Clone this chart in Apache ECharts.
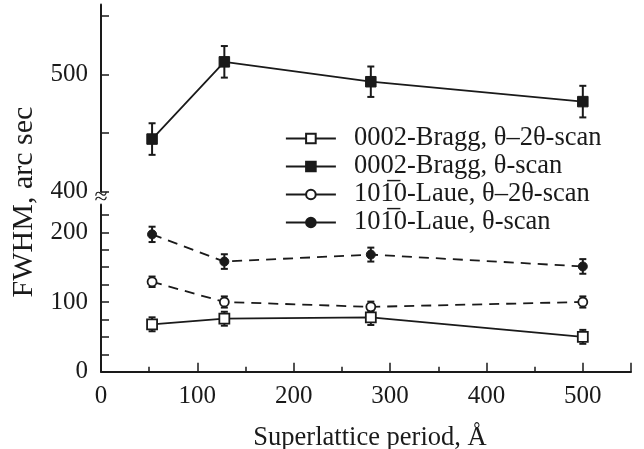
<!DOCTYPE html>
<html>
<head>
<meta charset="utf-8">
<script src="https://cdn.jsdelivr.net/npm/echarts@6/dist/echarts.min.js"></script>
<style>
  html, body { margin: 0; padding: 0; background: #fff; }
  #chart { width: 644px; height: 449px; }
</style>
</head>
<body>
<div id="chart"></div>
<script>
  // superlattice periods, angstrom
  const periods = [53, 128, 280, 500];

  // FWHM values (arc sec) and error half-widths
  const braggT2T = [68, 76, 78, 50];
  const braggT2TErr = [10, 10, 11, 10];
  const braggT = [445, 511, 494, 477];
  const braggTErr = [13.5, 13.5, 13, 13.5];
  const laueT2T = [129, 100, 93, 100];
  const laueT2TErr = [7.5, 8, 7.5, 8];
  const laueT = [197, 158, 168, 151];
  const laueTErr = [11, 10.5, 10, 10.5];

  const names = [
    '0002-Bragg, θ–2θ-scan',
    '0002-Bragg, θ-scan',
    '101\u03050-Laue, θ–2θ-scan',
    '101\u03050-Laue, θ-scan'
  ];

  const font = "'Liberation Serif', 'DejaVu Serif', serif";
  const ink = '#1a1a1a';

  function pts(ys) {
    return periods.map(function (x, i) { return [x, ys[i]]; });
  }
  function errPts(ys, es) {
    return periods.map(function (x, i) { return [x, ys[i], es[i]]; });
  }

  function renderErr(params, api) {
    const x = api.value(0), y = api.value(1), e = api.value(2);
    const top = api.coord([x, y + e]);
    const bot = api.coord([x, y - e]);
    const w = 3.5;
    const st = { stroke: ink, lineWidth: 2 };
    return {
      type: 'group',
      children: [
        { type: 'line', shape: { x1: top[0], y1: top[1], x2: bot[0], y2: bot[1] }, style: st },
        { type: 'line', shape: { x1: top[0] - w, y1: top[1], x2: top[0] + w, y2: top[1] }, style: st },
        { type: 'line', shape: { x1: bot[0] - w, y1: bot[1], x2: bot[0] + w, y2: bot[1] }, style: st }
      ]
    };
  }

  function errSeries(ys, es, idx) {
    return {
      type: 'custom',
      xAxisIndex: idx,
      yAxisIndex: idx,
      renderItem: renderErr,
      data: errPts(ys, es),
      encode: { x: 0, y: 1 },
      z: 1,
      silent: true
    };
  }

  const labelHundreds = function (v) { return v % 100 === 0 ? String(v) : ''; };

  const chart = echarts.init(document.getElementById('chart'));

  chart.setOption({
    backgroundColor: '#fff',
    animation: false,
    grid: [
      { left: 101, right: 13, top: 4.5, bottom: 257.3, outerBoundsMode: 'none' },
      { left: 101, right: 13, top: 204.4, bottom: 77.3, outerBoundsMode: 'none' }
    ],
    xAxis: [{
      gridIndex: 0,
      type: 'value',
      min: 0,
      max: 550,
      interval: 100,
      show: false
    }, {
      gridIndex: 1,
      type: 'value',
      min: 0,
      max: 550,
      interval: 100,
      name: 'Superlattice period, Å',
      nameLocation: 'middle',
      nameGap: 53,
      nameTextStyle: { fontFamily: font, fontSize: 26.5, color: ink, padding: [0, 0, 0, 8] },
      axisLine: { onZero: false, lineStyle: { color: ink, width: 2 } },
      axisTick: { inside: true, length: 9, lineStyle: { color: ink, width: 1.5 } },
      minorTick: { show: true, splitNumber: 2, length: 5, lineStyle: { color: ink, width: 1.5 } },
      splitLine: { show: false },
      axisLabel: {
        fontFamily: font, fontSize: 25, color: ink, margin: 12,
        formatter: labelHundreds,
        showMaxLabel: false
      }
    }],
    yAxis: [{
      gridIndex: 0,
      type: 'value',
      min: 400,
      max: 560,
      interval: 50,
      axisLine: { show: true, lineStyle: { color: ink, width: 2 } },
      axisTick: { inside: true, length: 8, lineStyle: { color: ink, width: 1.5 } },
      splitLine: { show: false },
      axisLabel: {
        fontFamily: font, fontSize: 25, color: ink, margin: 13,
        formatter: labelHundreds,
        showMaxLabel: false
      }
    }, {
      gridIndex: 1,
      type: 'value',
      min: 0,
      max: 240,
      interval: 25,
      axisLine: { show: true, onZero: false, lineStyle: { color: ink, width: 2 } },
      axisTick: { inside: true, length: 8, lineStyle: { color: ink, width: 1.5 } },
      splitLine: { show: false },
      axisLabel: {
        fontFamily: font, fontSize: 25, color: ink, margin: 13,
        formatter: labelHundreds,
        showMaxLabel: false
      }
    }],
    legend: {
      orient: 'vertical',
      left: 280,
      top: 120,
      itemWidth: 50,
      itemHeight: 12,
      itemGap: 1,
      textStyle: {
        fontFamily: font, fontSize: 26.5, color: ink,
        lineHeight: 26, padding: [0, 0, 0, 13]
      },
      data: names.map(function (n) {
        return { name: n, lineStyle: { type: 'solid', width: 1.8 } };
      })
    },
    graphic: [{
      type: 'text',
      rotation: Math.PI / 2,
      x: 24,
      y: 202,
      style: {
        text: 'FWHM, arc sec',
        font: '30px ' + font,
        fill: ink,
        textAlign: 'center',
        textVerticalAlign: 'middle'
      }
    }, {
      type: 'text',
      x: 101,
      y: 198,
      style: {
        text: '≈',
        font: '24px ' + font,
        fill: ink,
        textAlign: 'center',
        textVerticalAlign: 'middle'
      },
      z: 101
    }],
    series: [
      errSeries(braggT2T, braggT2TErr, 1),
      errSeries(braggT, braggTErr, 0),
      errSeries(laueT2T, laueT2TErr, 1),
      errSeries(laueT, laueTErr, 1),
      {
        name: names[0],
        type: 'line',
        xAxisIndex: 1, yAxisIndex: 1,
        data: pts(braggT2T),
        symbol: 'rect', symbolSize: 10,
        lineStyle: { color: ink, width: 1.8 },
        itemStyle: { color: '#fff', borderColor: ink, borderWidth: 1.8 },
        z: 3
      },
      {
        name: names[1],
        type: 'line',
        xAxisIndex: 0, yAxisIndex: 0,
        data: pts(braggT),
        symbol: 'rect', symbolSize: 10.5,
        lineStyle: { color: ink, width: 1.8 },
        itemStyle: { color: ink, borderColor: ink, borderWidth: 1 },
        z: 3
      },
      {
        name: names[2],
        type: 'line',
        xAxisIndex: 1, yAxisIndex: 1,
        data: pts(laueT2T),
        symbol: 'circle', symbolSize: 9,
        lineStyle: { color: ink, width: 1.8, type: [10, 7] },
        itemStyle: { color: '#fff', borderColor: ink, borderWidth: 1.8 },
        z: 3
      },
      {
        name: names[3],
        type: 'line',
        xAxisIndex: 1, yAxisIndex: 1,
        data: pts(laueT),
        symbol: 'circle', symbolSize: 9,
        lineStyle: { color: ink, width: 1.8, type: [10, 7] },
        itemStyle: { color: ink, borderColor: ink, borderWidth: 1 },
        z: 3
      }
    ]
  });
</script>
</body>
</html>
